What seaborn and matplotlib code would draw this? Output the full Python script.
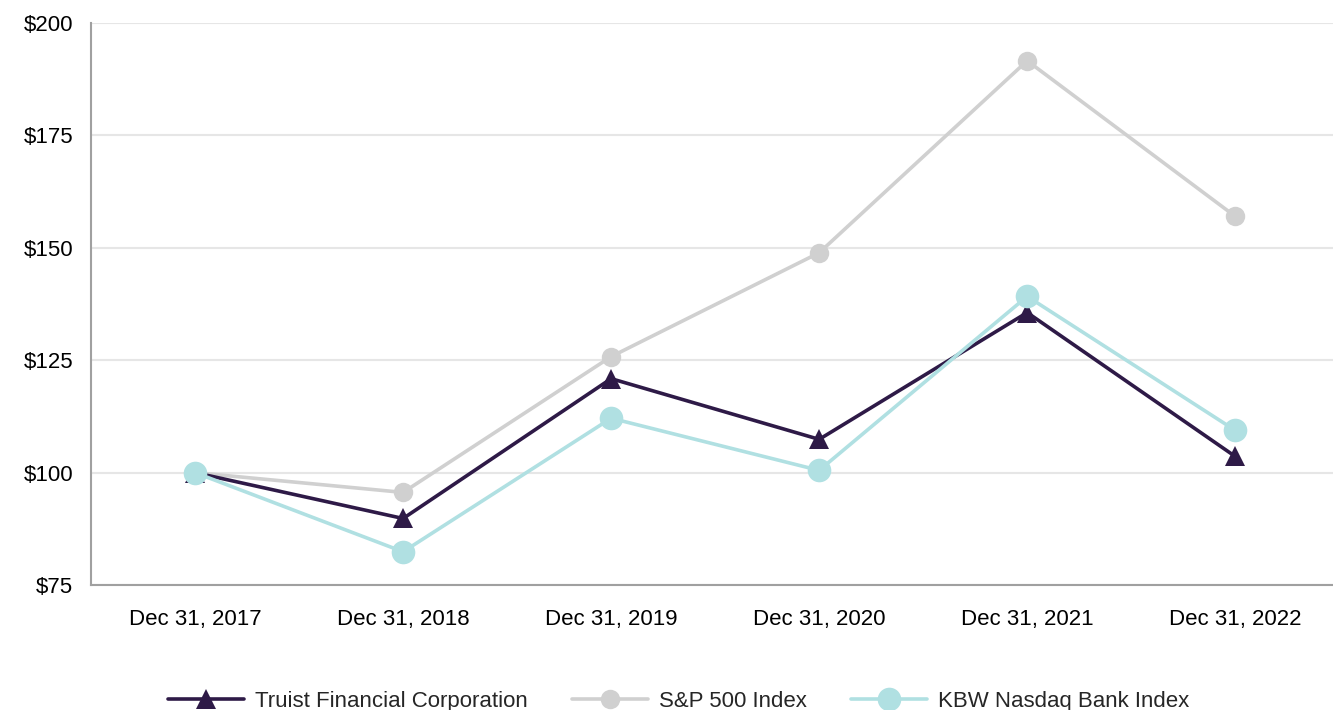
import numpy as np
import pandas as pd
import seaborn as sns
import matplotlib.pyplot as plt

dates = ["Dec 31, 2017", "Dec 31, 2018", "Dec 31, 2019", "Dec 31, 2020", "Dec 31, 2021", "Dec 31, 2022"]
truist = [100, 89.8, 120.9, 107.4, 135.6, 103.6]
sp500 = [100, 95.6, 125.8, 148.9, 191.6, 157.0]
kbw = [100, 82.4, 112.1, 100.5, 139.2, 109.4]

sns.set_style("white")
plt.rcParams['font.family'] = ['Liberation Sans', 'DejaVu Sans']

df = pd.DataFrame({"pos": range(len(dates)), "date": dates,
                   "Truist Financial Corporation": truist,
                   "S&P 500 Index": sp500,
                   "KBW Nasdaq Bank Index": kbw})

fig = plt.figure(figsize=(13.33, 7.10), dpi=100)
ax = fig.add_axes([0.0683, 0.176, 0.9317, 0.7916])

# grey first, then purple, teal on top
sns.lineplot(data=df, x="pos", y="S&P 500 Index", ax=ax, color="#D0D0D0", lw=2.6,
             marker="o", markersize=14, markeredgewidth=0, label="S&P 500 Index", zorder=3)
sns.lineplot(data=df, x="pos", y="Truist Financial Corporation", ax=ax, color="#2E1A47", lw=2.6,
             marker="^", markersize=15, markeredgewidth=0, label="Truist Financial Corporation", zorder=4)
sns.lineplot(data=df, x="pos", y="KBW Nasdaq Bank Index", ax=ax, color="#B0E0E2", lw=2.6,
             marker="o", markersize=17, markeredgewidth=0, label="KBW Nasdaq Bank Index", zorder=5)

ax.set_xlim(-0.5, 5.47)
ax.set_ylim(75, 200)
ax.set_yticks([75, 100, 125, 150, 175, 200])
ax.set_yticklabels([f"${v}" for v in [75, 100, 125, 150, 175, 200]])
ax.set_xticks(range(len(dates)))
ax.set_xticklabels(dates)
ax.tick_params(axis="both", labelsize=16, length=0, colors="black")
ax.tick_params(axis="x", pad=17)
ax.tick_params(axis="y", pad=13)
ax.set_xlabel("")
ax.set_ylabel("")
ax.yaxis.grid(True, color="#E6E6E6", lw=1.5)
ax.set_axisbelow(True)
for s in ["top", "right"]:
    ax.spines[s].set_visible(False)
for s in ["left", "bottom"]:
    ax.spines[s].set_color("#A0A0A0")
    ax.spines[s].set_linewidth(1.5)

ax.get_legend().remove()
h, l = ax.get_legend_handles_labels()
order = [1, 0, 2]
fig.legend([h[i] for i in order], [l[i] for i in order], loc="center",
           bbox_to_anchor=(0.509, 0.012), ncol=3, frameon=False, fontsize=16,
           handlelength=3.4, columnspacing=2.0, handletextpad=0.5)

fig.savefig("out.png", dpi=100)
